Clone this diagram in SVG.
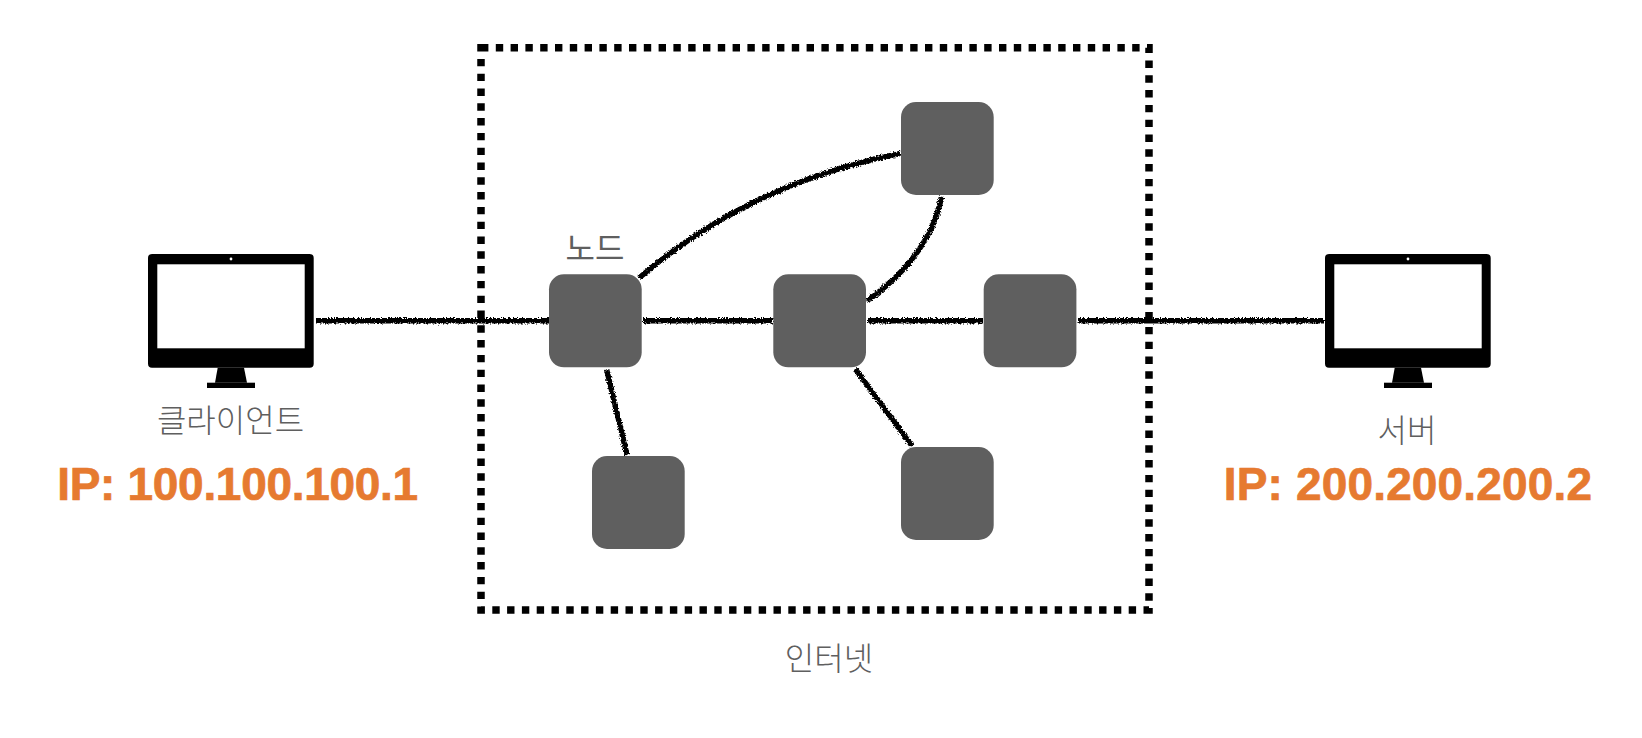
<svg xmlns="http://www.w3.org/2000/svg" width="1642" height="738" viewBox="0 0 1642 738">
<style>
.node{fill:#5f5f5f}
.mon{fill:#000}
.scr{fill:#fff}
.lbl{font-family:"Noto Sans CJK KR","Noto Sans",sans-serif;font-size:32px;font-weight:300;fill:#5f5f5f;text-anchor:middle}
.ip{font-family:"Liberation Sans",Arial,sans-serif;font-size:46px;font-weight:700;fill:#e67a30;stroke:#e67a30;stroke-width:.7;letter-spacing:-.3px;text-anchor:middle}
.cn{fill:none;stroke:#000;stroke-width:5.4;stroke-linecap:butt}
</style>
<defs>
<filter id="rough" x="0" y="0" width="1642" height="738" filterUnits="userSpaceOnUse" primitiveUnits="userSpaceOnUse">
<feTurbulence type="fractalNoise" baseFrequency="0.6" numOctaves="2" seed="4" result="n"/>
<feDisplacementMap in="SourceGraphic" in2="n" scale="4.5" xChannelSelector="R" yChannelSelector="G"/>
</filter>
<g id="monitor">
<rect class="mon" x="0" y="0" width="165.7" height="113.7" rx="4"/>
<rect class="scr" x="9.3" y="10.3" width="147.4" height="84"/>
<circle class="scr" cx="83" cy="5" r="1.4"/>
<path class="mon" d="M69.7 113.7H96L99 128.7H67Z"/>
<rect class="mon" x="59" y="128.7" width="48" height="5.3"/>
</g>
</defs>
<g id="internet-frame"><path d="M481 47.7H1149V610H481Z" fill="none" stroke="#000" stroke-width="7.5" stroke-dasharray="7.4 7.4"/></g>
<g id="connectors" filter="url(#rough)">
<path class="cn" d="M316 320.7H549"/>
<path class="cn" d="M643 320.7H773"/>
<path class="cn" d="M868 320.7H983"/>
<path class="cn" d="M1078 320.7H1324"/>
<path class="cn" d="M639 278Q749 183.4 900.5 153.3"/>
<path class="cn" d="M941.7 196.7Q929 257 867.3 300.7"/>
<path class="cn" d="M606.6 369.3L627 455"/>
<path class="cn" d="M855.3 369L912 446"/>
</g>
<g id="node-1"><rect class="node" x="549" y="274.3" width="92.7" height="93" rx="15"/><text class="lbl" x="595" y="260" style="font-weight:400">노드</text></g>
<g id="node-2"><rect class="node" x="773.3" y="274.3" width="92.7" height="93" rx="15"/></g>
<g id="node-3"><rect class="node" x="983.7" y="274.3" width="92.7" height="93" rx="15"/></g>
<g id="node-4"><rect class="node" x="901" y="102" width="92.7" height="93" rx="15"/></g>
<g id="node-5"><rect class="node" x="592" y="456" width="92.7" height="93" rx="15"/></g>
<g id="node-6"><rect class="node" x="901" y="447" width="92.7" height="93" rx="15"/></g>
<g id="client"><use href="#monitor" x="148" y="254"/><text class="lbl" x="230.5" y="432">클라이언트</text><text class="ip" x="237.5" y="500">IP: 100.100.100.1</text></g>
<g id="server"><use href="#monitor" x="1325" y="254"/><text class="lbl" x="1407" y="442">서버</text><text class="ip" x="1408" y="500" style="letter-spacing:.15px">IP: 200.200.200.2</text></g>
<g id="internet-label"><text class="lbl" x="829" y="670">인터넷</text></g>
</svg>
